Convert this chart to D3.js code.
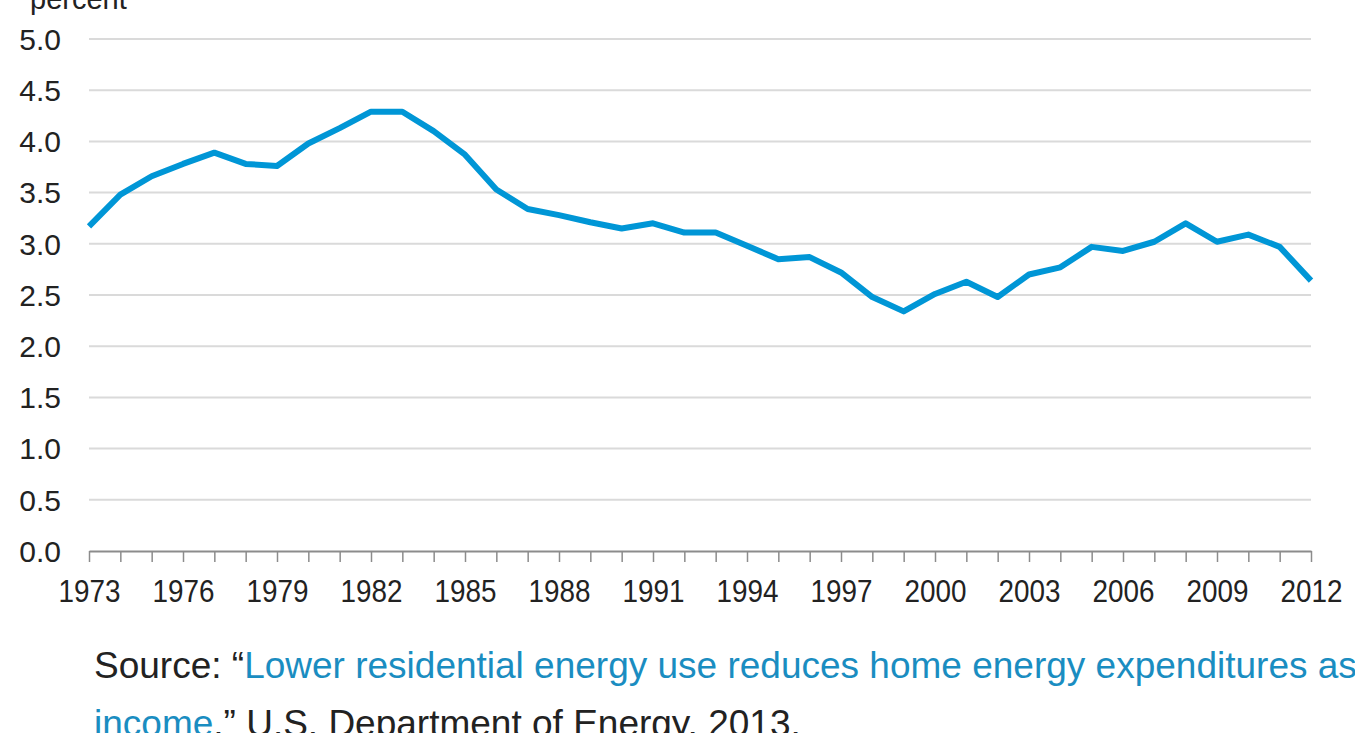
<!DOCTYPE html>
<html>
<head>
<meta charset="utf-8">
<script src="https://cdn.jsdelivr.net/npm/d3@7"></script>
<style>
  html, body { margin: 0; padding: 0; background: #fff; overflow: hidden; }
  svg { display: block; font-family: "Liberation Sans", Arial, Helvetica, sans-serif; }
</style>
</head>
<body>
<div id="plot"></div>
<script>
// energy expenditures as share of income, percent
const years = d3.range(1973, 2013);
const values = [
  3.17, 3.48, 3.66, 3.78, 3.89, 3.78, 3.76, 3.98, 4.13, 4.29,
  4.29, 4.10, 3.87, 3.53, 3.34, 3.28, 3.21, 3.15, 3.20, 3.11,
  3.11, 2.98, 2.85, 2.87, 2.72, 2.48, 2.34, 2.51, 2.63, 2.48,
  2.70, 2.77, 2.97, 2.93, 3.02, 3.20, 3.02, 3.09, 2.97, 2.64
];
const yTicks = [0, 0.5, 1, 1.5, 2, 2.5, 3, 3.5, 4, 4.5, 5];
const xLabelYears = d3.range(1973, 2013, 3);

const W = 1355, H = 733;
const margin = {top: 39, right: 44, bottom: 182, left: 89};

const svg = d3.select("#plot")
    .append("svg")
    .attr("width", W)
    .attr("height", H);

const x = d3.scaleLinear()
    .domain([1973, 2012])
    .range([margin.left, W - margin.right]);
const y = d3.scaleLinear()
    .domain([0, 5])
    .range([H - margin.bottom, margin.top]);

// gridlines
svg.append("g")
    .selectAll("line")
    .data(yTicks.filter(d => d > 0))
    .enter()
    .append("line")
    .attr("x1", x(1973))
    .attr("x2", x(2012))
    .attr("y1", d => y(d))
    .attr("y2", d => y(d))
    .style("stroke", "#dadada")
    .style("stroke-width", 2);

// y labels
svg.append("g")
    .selectAll("text")
    .data(yTicks)
    .enter()
    .append("text")
    .attr("x", 61)
    .attr("y", d => y(d))
    .attr("dy", "0.36em")
    .attr("text-anchor", "end")
    .style("font-size", "30px")
    .style("fill", "#222")
    .text(d => d3.format(".1f")(d));

// x axis
const bottomAxis = d3.axisBottom(x)
    .tickValues(years)
    .tickSize(11)
    .tickSizeOuter(0)
    .tickFormat(d => xLabelYears.includes(d) ? String(d) : "");

const gx = svg.append("g")
    .attr("transform", "translate(0," + y(0) + ")")
    .call(bottomAxis);
gx.select(".domain").style("stroke", "#8c8c8c").style("stroke-width", 2);
gx.selectAll(".tick line").style("stroke", "#8c8c8c").style("stroke-width", 1.5);
// labels are a bit condensed in the original
gx.selectAll(".tick text")
    .attr("y", 51)
    .attr("dy", 0)
    .attr("transform", "scale(0.87,1)")
    .style("font-size", "32px")
    .style("font-family", "'Liberation Sans', Arial, sans-serif")
    .style("fill", "#222");

// the line
const line = d3.line()
    .x((d, i) => x(years[i]))
    .y(d => y(d));

svg.append("path")
    .datum(values)
    .attr("d", line)
    .style("fill", "none")
    .style("stroke", "#0096d6")
    .style("stroke-width", 6)
    .style("stroke-linejoin", "round");

// unit label
svg.append("text")
    .attr("x", 30)
    .attr("y", 9)
    .style("font-size", "29px")
    .style("fill", "#222")
    .text("percent");

// source note
const src = svg.append("g").style("font-size", "37px");
const l1 = src.append("text").attr("x", 94).attr("y", 678);
l1.append("tspan").style("fill", "#222").text("Source: \u201c");
l1.append("tspan").style("fill", "#1a8dc1").text("Lower residential energy use reduces home energy expenditures as share of household");
const l2 = src.append("text").attr("x", 94).attr("y", 736);
l2.append("tspan").style("fill", "#1a8dc1").text("income");
l2.append("tspan").style("fill", "#222").text(",\u201d U.S. Department of Energy, 2013.");
</script>
</body>
</html>
